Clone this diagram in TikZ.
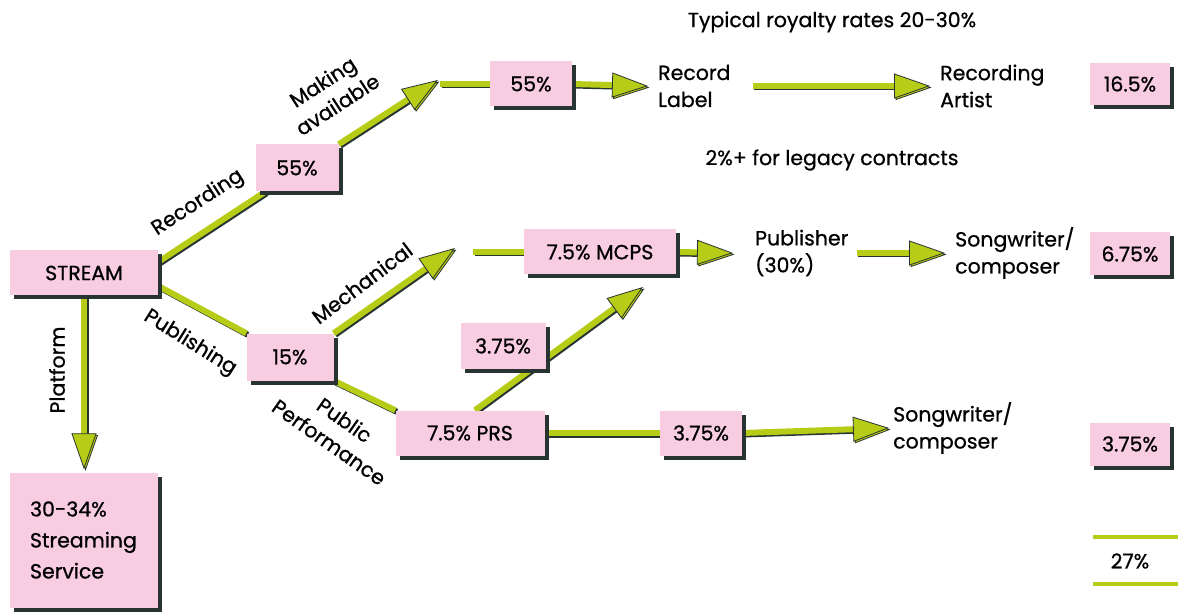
\documentclass[tikz,border=0pt]{standalone}
\usepackage{fontspec}
\setmainfont{Poppins}[UprightFeatures={FakeBold=0.8}]
\usepackage{xcolor}
\usepackage{tikz}
\usetikzlibrary{arrows.meta,shapes,shadows,backgrounds}
\definecolor{boxpink}{RGB}{248,205,225}
\definecolor{flowgreen}{RGB}{183,204,22}
\definecolor{shade}{RGB}{40,52,50}

\begin{document}
\begin{tikzpicture}[x=1pt,y=-1pt,
    every node/.style={inner sep=0pt,minimum size=0pt,font=\fontsize{20.5}{27}\selectfont},
    pct/.style={fill=boxpink,minimum width=82pt,minimum height=45pt,
      drop shadow={shadow xshift=4pt,shadow yshift=-4pt,fill=shade,opacity=1}},
    flow/.style={draw=flowgreen,line width=6pt,
      preaction={draw=shade,line width=6pt,transform canvas={shift={(1.5pt,-1.5pt)}}}},
    tip/.style={-{Triangle[length=36pt,width=25pt,fill=flowgreen,color=shade,line width=0.8pt]}}]
    \useasboundingbox (0,0) rectangle (1178,612);

    \node(stream)[pct,minimum width=148pt] at (84,273) {STREAM};
    \node(service)[pct,minimum width=148pt,minimum height=135pt,text width=108pt,align=left,
      font=\fontsize{20.5}{31}\selectfont] at (84,540) {30-34\%\\Streaming\\Service};

    \node(rec55)[pct,minimum width=83pt,minimum height=47pt] at (297,168) {55\%};
    \node(make55)[pct] at (531,84) {55\%};
    \node(label)[anchor=west,align=left] at (658,86) {Record\\Label};
    \node(artist)[anchor=west,align=left] at (940,86) {Recording\\Artist};
    \node(rate165)[pct,minimum width=80pt,minimum height=42pt] at (1130,84) {16.5\%};
    \node(typical) at (832,22) {Typical royalty rates 20-30\%};
    \node(legacy) at (832,160) {2\%+ for legacy contracts};

    \node(pub15)[pct,minimum width=87pt,minimum height=47pt] at (290,357) {15\%};
    \node(mcps)[pct,minimum width=152pt] at (600,252) {7.5\% MCPS};
    \node(publisher)[anchor=west,align=left] at (755,253) {Publisher\\(30\%)};
    \node(writer)[anchor=west,align=left] at (955,253) {Songwriter/\\composer};
    \node(rate675)[pct,minimum width=80pt,minimum height=43pt] at (1130,254) {6.75\%};

    \node(prs)[pct,minimum width=149pt] at (470,433) {7.5\% PRS};
    \node(prs375)[pct,minimum width=85pt,minimum height=46pt] at (503,346) {3.75\%};
    \node(perf375)[pct] at (701,433) {3.75\%};
    \node(writerb)[anchor=west,align=left] at (893,428) {Songwriter/\\composer};
    \node(rate375)[pct,minimum width=80pt,minimum height=43pt] at (1130,444) {3.75\%};
    \node(total) at (1130,561) {27\%};

    % branch labels
    \node(platformlbl)[rotate=90] at (57,370) {Platform};
    \node(recordinglbl)[rotate=33] at (198,203) {Recording};
    \node(makinglbl)[rotate=33,align=center] at (330,93) {Making\\available};
    \node(publishinglbl)[rotate=-32] at (190,343) {Publishing};
    \node(mechlbl)[rotate=37] at (362,283) {Mechanical};
    \node(perflbl)[rotate=-35,align=center] at (337,431) {Public\\Performance};

    \coordinate(maketip) at (438,80);
    \coordinate(makestart) at (440,84);
    \coordinate(mechtip) at (455,248);
    \coordinate(mechstart) at (473,252);
    \coordinate(prstip) at (643,287);
    \coordinate(totalA) at (1093,537);
    \coordinate(totalB) at (1178,537);
    \coordinate(totalC) at (1093,584);
    \coordinate(totalD) at (1178,584);

    \begin{scope}[on background layer]
    \path[flow,tip](stream.south) -- ([yshift=3pt]service.north);
    \path[flow]([yshift=11pt]stream.east) -- ([xshift=10pt]rec55.south west);
    \path[flow,tip](rec55.north east) -- (maketip);
    \path[flow](makestart) -- (make55);
    \path[flow,tip](make55.east) -- ([xshift=-10pt]label.west);
    \path[flow,tip]([xshift=22pt]label.east) -- ([xshift=-10pt]artist.west);

    \path[flow]([yshift=-13pt]stream.east) -- (pub15.north west);
    \path[flow,tip](pub15.north east) -- (mechtip);
    \path[flow](mechstart) -- (mcps);
    \path[flow,tip](mcps.east) -- ([xshift=-22pt]publisher.west);
    \path[flow,tip]([xshift=8pt]publisher.east) -- ([xshift=-10pt]writer.west);

    \path[flow](pub15.south east) -- (prs.north west);
    \path[flow,tip]([xshift=5pt]prs.north) -- (prstip);
    \path[flow](prs.east) -- (perf375.west);
    \path[flow,tip](perf375.east) -- ([xshift=-4pt]writerb.west);
    \end{scope}

    \path[draw=flowgreen,line width=4pt](totalA) -- (totalB);
    \path[draw=flowgreen,line width=4pt](totalC) -- (totalD);
\end{tikzpicture}
\end{document}
